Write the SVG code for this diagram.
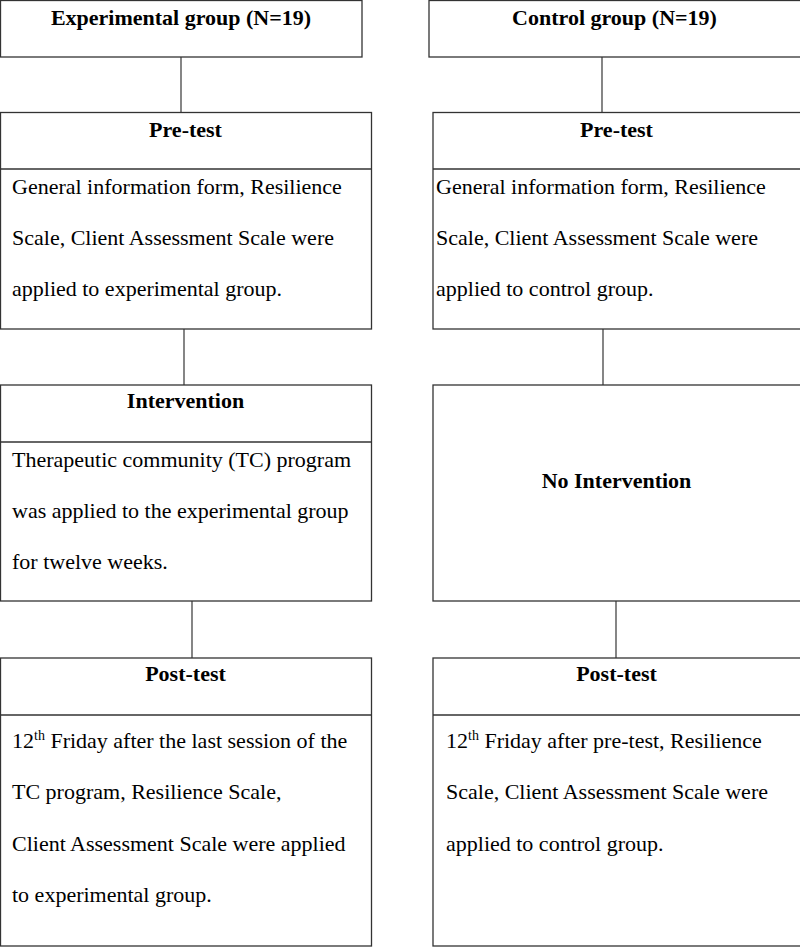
<svg xmlns="http://www.w3.org/2000/svg" width="800" height="947" viewBox="0 0 800 947" font-family="'Liberation Serif', 'Times New Roman', serif">
<style>
.box{fill:#fff;stroke:#333;stroke-width:1.3}
.div{stroke:#333;stroke-width:1.3}
.con{stroke:#444;stroke-width:1.3;fill:none}
text{font-family:'Liberation Serif','Times New Roman',serif;font-size:22px;fill:#000}
.h{font-weight:bold;text-anchor:middle}
.sup{font-size:14px}
</style>
<rect width="800" height="947" fill="#fff"/>
<g id="connectors">
<line class="con" x1="181" y1="57" x2="181" y2="112.5"/>
<line class="con" x1="602" y1="57" x2="602" y2="112.5"/>
<line class="con" x1="184" y1="329" x2="184" y2="385"/>
<line class="con" x1="603" y1="329" x2="603" y2="385"/>
<line class="con" x1="192" y1="601" x2="192" y2="658"/>
<line class="con" x1="616" y1="601" x2="616" y2="658"/>
</g>
<g id="exp-group">
<rect class="box" x="0.5" y="0.5" width="361.5" height="56.5"/>
<text class="h" x="181" y="25">Experimental group (N=19)</text>
</g>
<g id="ctl-group">
<rect class="box" x="429" y="0.5" width="380" height="56.5"/>
<text class="h" x="614.5" y="25">Control group (N=19)</text>
</g>
<g id="exp-pretest">
<rect class="box" x="0.5" y="112.5" width="371" height="216.5"/>
<line class="div" x1="0.5" y1="169" x2="371.5" y2="169"/>
<text class="h" x="185.5" y="137">Pre-test</text>
<text x="12" y="194">General information form, Resilience</text>
<text x="12" y="245">Scale, Client Assessment Scale were</text>
<text x="12" y="296">applied to experimental group.</text>
</g>
<g id="ctl-pretest">
<rect class="box" x="433" y="112.5" width="380" height="216.5"/>
<line class="div" x1="433" y1="169" x2="800" y2="169"/>
<text class="h" x="616.5" y="137">Pre-test</text>
<text x="436" y="194">General information form, Resilience</text>
<text x="436" y="245">Scale, Client Assessment Scale were</text>
<text x="436" y="296">applied to control group.</text>
</g>
<g id="exp-intervention">
<rect class="box" x="0.5" y="385" width="371" height="216"/>
<line class="div" x1="0.5" y1="442" x2="371.5" y2="442"/>
<text class="h" x="185.5" y="408">Intervention</text>
<text x="12" y="467">Therapeutic community (TC) program</text>
<text x="12" y="518">was applied to the experimental group</text>
<text x="12" y="569">for twelve weeks.</text>
</g>
<g id="ctl-nointervention">
<rect class="box" x="433" y="385" width="380" height="216"/>
<text class="h" x="616.5" y="488">No Intervention</text>
</g>
<g id="exp-posttest">
<rect class="box" x="0.5" y="658" width="371" height="288"/>
<line class="div" x1="0.5" y1="715" x2="371.5" y2="715"/>
<text class="h" x="185.5" y="681">Post-test</text>
<text x="12" y="748">12<tspan class="sup" dy="-8">th</tspan><tspan dy="8"> Friday after the last session of the</tspan></text>
<text x="12" y="799">TC program, Resilience Scale,</text>
<text x="12" y="851">Client Assessment Scale were applied</text>
<text x="12" y="902">to experimental group.</text>
</g>
<g id="ctl-posttest">
<rect class="box" x="433" y="658" width="380" height="288"/>
<line class="div" x1="433" y1="715" x2="800" y2="715"/>
<text class="h" x="616.5" y="681">Post-test</text>
<text x="446" y="748">12<tspan class="sup" dy="-8">th</tspan><tspan dy="8"> Friday after pre-test, Resilience</tspan></text>
<text x="446" y="799">Scale, Client Assessment Scale were</text>
<text x="446" y="851">applied to control group.</text>
</g>
</svg>
